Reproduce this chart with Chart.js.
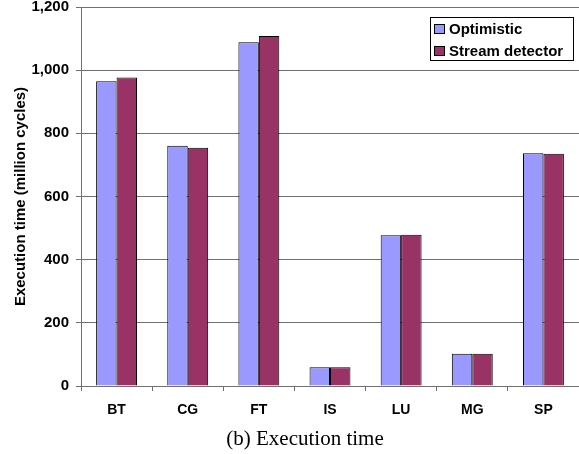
<!DOCTYPE html>
<html>
<head>
<meta charset="utf-8">
<script src="https://cdn.jsdelivr.net/npm/chart.js@4.4.0/dist/chart.umd.min.js"></script>
<style>
html,body{margin:0;padding:0;background:#fff;}
#wrap{width:579px;height:454px;position:relative;}
</style>
</head>
<body>
<div id="wrap"><canvas id="c" width="579" height="454"></canvas></div>
<script>
const categories = ['BT','CG','FT','IS','LU','MG','SP'];
const optimistic = [965, 761, 1088, 59, 477, 102, 737];
const streamDetector = [977, 754, 1108, 59, 479, 102, 735];
const seriesNames = ['Optimistic', 'Stream detector'];
const yTicks = [0, 200, 400, 600, 800, 1000, 1200];
const yTitle = 'Execution time (million cycles)';
const caption = '(b) Execution time';

const legendPlugin = {
  id: 'boxLegend',
  afterDraw(chart) {
    const ctx = chart.ctx;
    const a = chart.chartArea;
    const x0 = a.right - 149, y0 = a.top + 10, w = 143, h = 43;
    ctx.save();
    ctx.fillStyle = '#fff';
    ctx.fillRect(x0, y0, w, h);
    ctx.strokeStyle = '#000';
    ctx.lineWidth = 1;
    ctx.strokeRect(x0 + 0.5, y0 + 0.5, w, h);
    ctx.font = 'bold 15px "Liberation Sans", Arial, sans-serif';
    ctx.textBaseline = 'middle';
    chart.data.datasets.forEach((ds, i) => {
      const cy = y0 + 12 + i * 22;
      ctx.fillStyle = ds.backgroundColor;
      ctx.fillRect(x0 + 4.5, cy - 4.5, 10, 9);
      ctx.strokeStyle = '#000';
      ctx.strokeRect(x0 + 4.5, cy - 4.5, 10, 9);
      ctx.fillStyle = '#000';
      ctx.fillText(ds.label, x0 + 19, cy + 0.5);
    });
    ctx.restore();
  }
};

const captionPlugin = {
  id: 'caption',
  afterDraw(chart) {
    const ctx = chart.ctx;
    ctx.save();
    ctx.font = '21px "Liberation Serif", "Times New Roman", serif';
    ctx.fillStyle = '#000';
    ctx.textAlign = 'center';
    ctx.textBaseline = 'middle';
    ctx.fillText(caption, 305, 439);
    ctx.restore();
  }
};

new Chart(document.getElementById('c'), {
  type: 'bar',
  data: {
    labels: categories,
    datasets: [
      { label: seriesNames[0], data: optimistic, backgroundColor: '#9999FF', borderColor: '#000', borderWidth: 1 },
      { label: seriesNames[1], data: streamDetector, backgroundColor: '#993366', borderColor: '#000', borderWidth: 1 }
    ]
  },
  options: {
    responsive: false,
    animation: false,
    devicePixelRatio: 1,
    layout: { padding: { top: 7, right: 0, left: 0, bottom: 0 } },
    datasets: { bar: { categoryPercentage: 0.575, barPercentage: 1.0 } },
    plugins: { legend: { display: false }, tooltip: { enabled: false } },
    scales: {
      x: {
        afterFit(s) { s.height = 68; s.paddingLeft = 0; s.paddingRight = 0; },
        grid: { offset: true, drawOnChartArea: false, drawTicks: true, tickLength: 5, color: '#707070' },
        border: { color: '#707070' },
        ticks: { color: '#000', padding: 11, font: { family: '"Liberation Sans", Arial, sans-serif', size: 14, weight: 'bold' } }
      },
      y: {
        min: 0, max: 1200,
        afterFit(s) { s.width = 81; s.paddingTop = 0; s.paddingBottom = 0; },
        afterBuildTicks(s) { s.ticks = yTicks.map(v => ({ value: v })); },
        grid: { color: '#707070', tickLength: 5 },
        border: { color: '#707070' },
        ticks: {
          color: '#000', padding: 7,
          font: { family: '"Liberation Sans", Arial, sans-serif', size: 15, weight: 'bold' },
          callback: v => v.toLocaleString('en-US')
        },
        title: {
          display: true, text: yTitle, color: '#000', padding: { top: 12, bottom: 0 },
          font: { family: '"Liberation Sans", Arial, sans-serif', size: 15, weight: 'bold' }
        }
      }
    }
  },
  plugins: [legendPlugin, captionPlugin]
});
</script>
</body>
</html>
